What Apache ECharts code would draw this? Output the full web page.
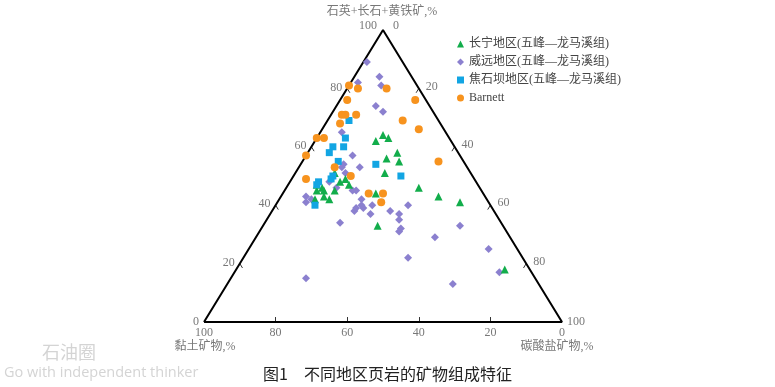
<!DOCTYPE html>
<html><head><meta charset="utf-8">
<script src="https://cdn.jsdelivr.net/npm/echarts@6/dist/echarts.min.js"></script>
<style>html,body{margin:0;padding:0;background:#fff}#c{width:775px;height:387px}</style>
</head><body><div id="c"></div>
<script>
// Each point: [石英+长石+黄铁矿 %, 黏土矿物 %, 碳酸盐矿物 %]
const seriesNames = ['长宁地区(五峰—龙马溪组)', '威远地区(五峰—龙马溪组)', '焦石坝地区(五峰—龙马溪组)', 'Barnett'];
const changning = [[62,21,17],[64,18,18],[63,17,20],[56,21,23],[58,17,25],[55,18,27],[51,24,25],[46,17,37],[43,13,44],[41,8,51],[33,35,32],[44,30,26],[18,7,75],[47,36,17],[49,36,15],[48,38,14],[51,38,11],[45,46,9],[45,44,11],[43,45,12],[42,44,14],[42,48,10],[47,45,8],[46,44,10],[45,41,14]];
const weiyuan = [[89,10,1],[84,9,7],[81,10,9],[82,16,2],[74,15,11],[72,14,14],[65,29,6],[57,30,13],[53,30,17],[54,34,12],[53,35,12],[51,35,14],[48,41,11],[46,40,14],[45,36,19],[45,35,20],[42,35,23],[40,36,24],[43,50,7],[42,49,9],[41,51,8],[38,39,23],[39,38,23],[39,36,25],[40,33,27],[37,35,28],[38,29,33],[37,27,36],[35,28,37],[32,29,39],[31,30,39],[40,23,37],[34,45,21],[33,12,55],[29,21,50],[25,8,67],[22,32,46],[17,9,74],[13,24,63],[15,64,21]];
const jiaoshiba = [[69,25,6],[63,29,8],[60,34,6],[60,31,9],[58,36,6],[55,35,10],[54,25,21],[50,20,30],[48,44,8],[47,45,8],[49,40,11],[50,39,11],[40,49,11]];
const barnett = [[81,19,0],[80,17,3],[80,9,11],[76,22,2],[76,3,21],[71,26,3],[71,25,4],[71,22,7],[68,28,4],[69,10,21],[66,7,27],[63,37,0],[63,35,2],[57,43,0],[55,7,38],[53,37,10],[50,34,16],[49,47,4],[44,32,24],[44,28,28],[41,30,29]];
const tickValues = [20, 40, 60, 80];
const axisTitles = ['石英+长石+黄铁矿,%', '黏土矿物,%', '碳酸盐矿物,%'];
const caption = '图1　不同地区页岩的矿物组成特征';

// ternary -> cartesian (x: 0 at clay corner, 1 at carbonate corner; y: quartz fraction)
function tern(q, c) { return [c / 100 + q / 200, q / 100]; }
const toXY = arr => arr.map(d => tern(d[0], d[2]));

const numFont = "'Liberation Serif', 'Noto Sans CJK SC', serif";
const labelColor = '#555';

function lbl(pt, text, position, distance, offset) {
  return {
    value: pt,
    label: {
      show: true, formatter: String(text), position: position, distance: distance,
      offset: offset || [0, 0], color: labelColor, fontSize: 12, fontFamily: numFont
    }
  };
}

const labelData = [];
tickValues.forEach(q => labelData.push(lbl(tern(q, 0), q, 'left', 5, [0, -1])));
labelData.push(lbl(tern(100, 0), 100, 'left', 6, [0, -4]));
labelData.push(lbl(tern(0, 0), 0, 'left', 5, [0, 0]));
tickValues.forEach(c => labelData.push(lbl(tern(100 - c, c), c, 'right', 7, [0, -2])));
labelData.push(lbl(tern(100, 0), 0, 'right', 10, [0, -4]));
labelData.push(lbl(tern(0, 100), 100, 'right', 5, [0, 0]));
tickValues.forEach(k => labelData.push(lbl(tern(0, 100 - k), k, 'bottom', 5, [0, 0])));
labelData.push(lbl(tern(0, 0), 100, 'bottom', 5, [0, 0]));
labelData.push(lbl(tern(0, 100), 0, 'bottom', 5, [0, 0]));
labelData.push(lbl(tern(100, 0), axisTitles[0], 'top', 12, [-1, 0]));
labelData.push(lbl(tern(0, 0), axisTitles[1], 'bottom', 19, [1, 0]));
labelData.push(lbl(tern(0, 100), axisTitles[2], 'bottom', 19, [-5, 0]));

const tickLines = [];
tickValues.forEach(q => tickLines.push({ coords: [tern(q, 0), tern(q - 1.5, 1.5)] }));
tickValues.forEach(c => tickLines.push({ coords: [tern(100 - c, c), tern(100 - c - 1.5, c)] }));
tickValues.forEach(k => tickLines.push({ coords: [tern(0, 100 - k), tern(1.7, 100 - k - 0.85)] }));

const chart = echarts.init(document.getElementById('c'), null, { renderer: 'canvas' });
chart.setOption({
  backgroundColor: '#fff',
  animation: false,
  grid: { left: 204, right: 213, top: 30, bottom: 65 },
  xAxis: { type: 'value', min: 0, max: 1, show: false },
  yAxis: { type: 'value', min: 0, max: 1, show: false },
  legend: {
    orient: 'vertical', left: 457, top: 38, itemWidth: 7, itemHeight: 7, itemGap: 6, padding: 0,
    textStyle: { fontSize: 12, color: '#444', fontFamily: numFont },
    data: [
      { name: seriesNames[0], icon: 'triangle' },
      { name: seriesNames[1], icon: 'diamond' },
      { name: seriesNames[2], icon: 'rect' },
      { name: seriesNames[3], icon: 'circle' }
    ]
  },
  graphic: [
    { type: 'text', left: 'center', top: 366, style: { text: caption, font: "16px 'Noto Sans CJK SC'", fill: '#222' }, x: 12 },
    { type: 'text', left: 42, top: 343, style: { text: '石油圈', font: "18px 'Noto Sans CJK SC'", fill: '#d4d4d4' } },
    { type: 'text', left: 4, top: 365, style: { text: 'Go with independent thinker', font: "14.5px 'Open Sans'", fill: '#d4d4d4' } }
  ],
  series: [
    { type: 'line', data: [[0, 0], [1, 0], [0.5, 1], [0, 0]], symbol: 'none', clip: false, silent: true,
      lineStyle: { color: '#000', width: 2 }, z: 1 },
    { type: 'lines', coordinateSystem: 'cartesian2d', data: tickLines, silent: true,
      lineStyle: { color: '#333', width: 1, opacity: 1 }, z: 1 },
    { type: 'scatter', data: labelData, symbolSize: 0, silent: true, clip: false, z: 1 },
    { name: seriesNames[1], type: 'scatter', symbol: 'diamond', symbolSize: 8, data: toXY(weiyuan),
      itemStyle: { color: '#8b80cf', opacity: 1 }, z: 2 },
    { name: seriesNames[0], type: 'scatter', symbol: 'triangle', symbolSize: 8, data: toXY(changning),
      itemStyle: { color: '#12ad4b', opacity: 1 }, z: 3 },
    { name: seriesNames[2], type: 'scatter', symbol: 'rect', symbolSize: 7, data: toXY(jiaoshiba),
      itemStyle: { color: '#12a5e3', opacity: 1 }, z: 4 },
    { name: seriesNames[3], type: 'scatter', symbol: 'circle', symbolSize: 8, data: toXY(barnett), clip: false,
      itemStyle: { color: '#f7931e', opacity: 1 }, z: 5 }
  ]
});
</script></body></html>
